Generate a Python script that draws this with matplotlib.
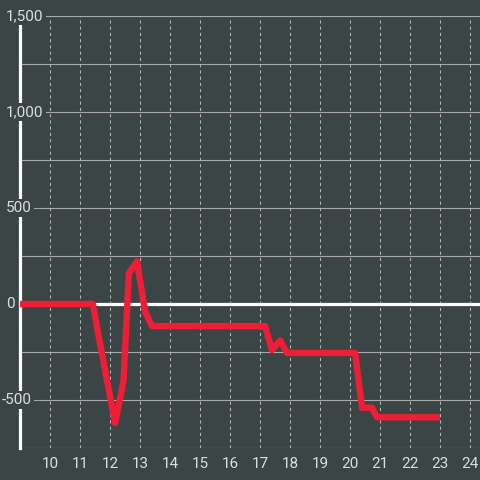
import matplotlib.pyplot as plt

# hours vs value
hours = [9, 11.43, 11.6, 12.17, 12.45, 12.63, 12.9, 13.17, 13.4, 17.17, 17.4, 17.67,
         17.9, 20.17, 20.4, 20.73, 20.9, 23]
values = [0, 0, -150, -620, -400, 160, 222, -40, -115, -115, -240, -190,
          -255, -255, -540, -540, -590, -590]

ytick_vals = [-500, 0, 500, 1000, 1500]
ytick_labels = ['-500', '0', '500', '1,000', '1,500']
xtick_vals = list(range(10, 25))

bg = '#3c4545'
txt = '#dddddd'
plt.rcParams['font.family'] = ['Roboto', 'DejaVu Sans']

fig = plt.figure(figsize=(4.8, 4.8), dpi=100, facecolor=bg)
ax = fig.add_axes([20/480, 32/480, 460/480, 432/480], facecolor=bg)
ax.set_xlim(9, 9 + 460/30)
ax.set_ylim(-750, 1500)

for s in ['top', 'right', 'bottom']:
    ax.spines[s].set_visible(False)
ax.spines['left'].set_color('white')
ax.spines['left'].set_linewidth(2.3)
ax.spines['left'].set_zorder(3)

# grid
for v in range(-750, 1501, 250):
    ax.axhline(v, color='#a9a9a9', lw=0.8, zorder=1)
for v in xtick_vals:
    ax.axvline(v, color='#b5b5b5', lw=0.75, ls=(0, (3, 3)), zorder=1)
ax.axhline(0, color='white', lw=2.3, zorder=2)

ax.plot(hours, values, color='#ee1e36', lw=4.6, solid_capstyle='butt', zorder=4)

ax.set_xticks([])
ax.set_yticks([])
for v in xtick_vals:
    ax.text(v, -0.036, str(v), transform=ax.get_xaxis_transform(), ha='center',
            va='center', color=txt, fontsize=11, clip_on=False)
for v, lab in zip(ytick_vals, ytick_labels):
    x0 = -0.0305 if v >= 0 else -0.039
    ax.text(x0, v, lab, transform=ax.get_yaxis_transform(), ha='left', va='center',
            color=txt, fontsize=11, clip_on=False, zorder=6,
            bbox=dict(facecolor=bg, edgecolor='none', pad=1.5))

fig.savefig('out.png', dpi=100, facecolor=bg)
